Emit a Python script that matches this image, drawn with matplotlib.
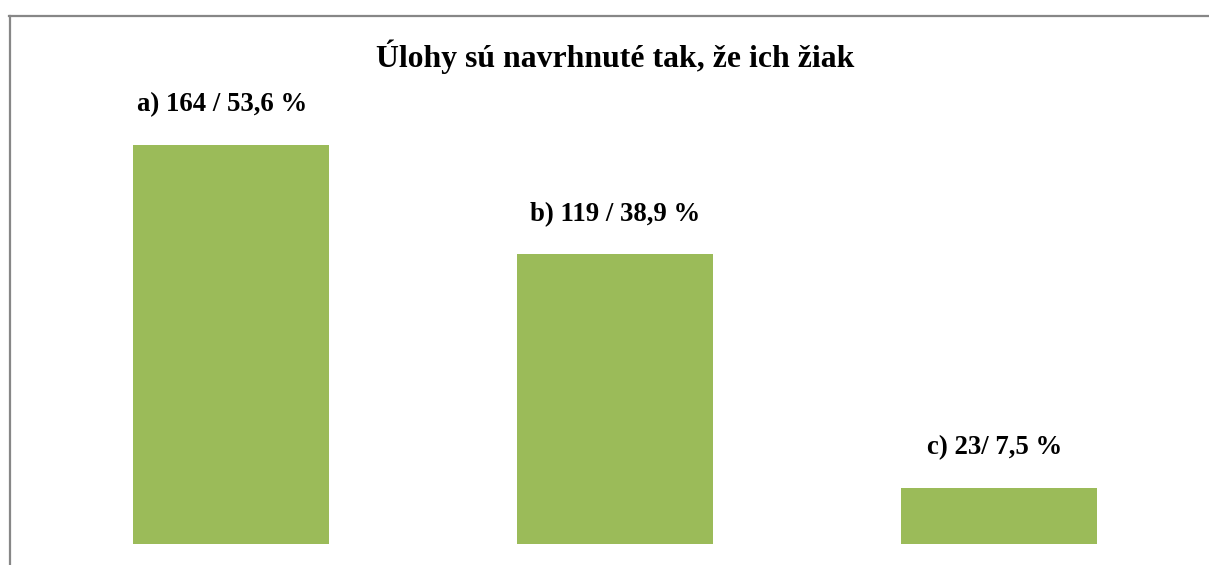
import matplotlib.pyplot as plt
from matplotlib.lines import Line2D

# Údaje z grafu
categories = ['a)', 'b)', 'c)']
counts = [164, 119, 23]
labels = ['a) 164 / 53,6 %', 'b) 119 / 38,9 %', 'c) 23/ 7,5 %']
title = 'Úlohy sú navrhnuté tak, že ich žiak'

W, H = 1209, 565
fig = plt.figure(figsize=(W / 100, H / 100), dpi=100)
plt.rcParams['font.family'] = ['Liberation Serif', 'DejaVu Serif']

# rámček (iba ľavá a horná čiara)
fig.add_artist(Line2D([9.5 / W, 9.5 / W], [0, 1 - 16 / H], color='#878787', lw=1.6,
                      transform=fig.transFigure))
fig.add_artist(Line2D([9 / W, 1], [1 - 16 / H, 1 - 16 / H], color='#878787', lw=1.6,
                      transform=fig.transFigure))

ax = fig.add_axes([39 / W, 21 / H, 1152 / W, 438 / H])
x = range(len(categories))
ax.bar(x, counts, width=0.51, color='#9BBB59')
ax.set_xlim(-0.5, 2.5)
ax.set_ylim(0, 180)
ax.axis('off')

offsets = [-9, 0, -4]
for i, (c, lab) in enumerate(zip(counts, labels)):
    ax.annotate(lab, (i, c), xytext=(offsets[i] * 0.72, 29), textcoords='offset points',
                ha='center', va='center', fontsize=19.3, fontweight='bold')

fig.text(615 / W, 1 - 57 / H, title, ha='center', va='center', fontsize=22.9,
         fontweight='bold')

fig.savefig('out.png', dpi=100)
